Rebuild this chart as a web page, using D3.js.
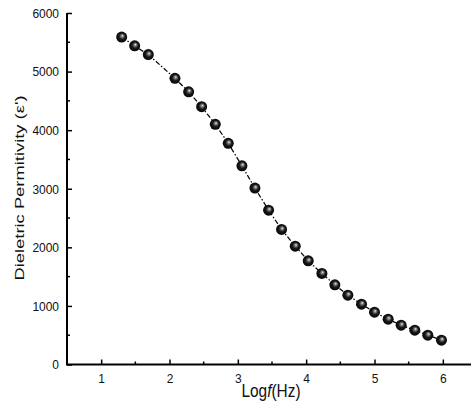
<!DOCTYPE html>
<html><head><meta charset="utf-8">
<script src="https://cdn.jsdelivr.net/npm/d3@7"></script>
<style>body{margin:0;background:#fff}svg{display:block}</style>
</head><body>
<script>
const logF = [1.30,1.49,1.69,2.08,2.28,2.47,2.67,2.86,3.06,3.25,3.45,3.64,3.84,4.03,4.23,4.42,4.61,4.81,5.00,5.20,5.39,5.59,5.78,5.98];
const permittivity = [5590,5440,5290,4885,4655,4400,4100,3775,3392,3011,2635,2306,2020,1769,1554,1360,1184,1030,893,774,671,586,501,415];
const xTicks = [1,2,3,4,5,6];
const yTicks = [0,1000,2000,3000,4000,5000,6000];

const W = 471, H = 402;
const FONT = "'Liberation Sans', Arial, sans-serif";
const svg = d3.select("body").append("svg").attr("width", W).attr("height", H)
  .style("font-family", FONT);

const x = d3.scaleLinear().domain([0.5, 6.5]).range([67, 477]);
const y = d3.scaleLinear().domain([0, 6000]).range([364.5, 13]);

const defs = svg.append("defs");
const g = defs.append("radialGradient").attr("id", "ball").attr("cx", "50%").attr("cy", "50%").attr("r", "55%")
  .attr("fx", "58%").attr("fy", "38%");
g.append("stop").attr("offset", "0%").attr("stop-color", "#f4f4f4");
g.append("stop").attr("offset", "18%").attr("stop-color", "#8a8a8a");
g.append("stop").attr("offset", "50%").attr("stop-color", "#1a1a1a");
g.append("stop").attr("offset", "100%").attr("stop-color", "#000");

const xMinor = d3.range(1.5, 6.6, 1);
const yMinor = d3.range(500, 6000, 1000);

const xAxis = svg.append("g").attr("transform", `translate(0,${y(0)})`)
  .call(d3.axisBottom(x).tickValues(xTicks).tickSize(-5).tickPadding(9).tickFormat(d3.format("d")));
xAxis.append("g").selectAll("line").data(xMinor).join("line")
  .attr("x1", d => x(d)).attr("x2", d => x(d)).attr("y1", 0).attr("y2", -3)
  .attr("stroke", "#000").attr("stroke-width", 1.5);

const yAxis = svg.append("g").attr("transform", `translate(${x(0.5)},0)`)
  .call(d3.axisLeft(y).tickValues(yTicks).tickSize(-5).tickPadding(8).tickFormat(d3.format("d")));
yAxis.append("g").selectAll("line").data(yMinor).join("line")
  .attr("y1", d => y(d)).attr("y2", d => y(d)).attr("x1", 0).attr("x2", 3)
  .attr("stroke", "#000").attr("stroke-width", 1.5);

[xAxis, yAxis].forEach(a => {
  a.select(".domain").remove();
  a.selectAll(".tick line").attr("stroke-width", 1.5);
  a.selectAll(".tick text").attr("font-size", 13.5).attr("fill", "#111")
    .style("font-family", FONT)
    .attr("textLength", function() { return this.textContent.length * 6.65; })
    .attr("lengthAdjust", "spacingAndGlyphs");
});
svg.append("line").attr("x1", x(0.5)).attr("x2", W).attr("y1", y(0)).attr("y2", y(0)).attr("stroke", "#000").attr("stroke-width", 2);
svg.append("line").attr("x1", x(0.5)).attr("x2", x(0.5)).attr("y1", y(0) + 1).attr("y2", y(6000)).attr("stroke", "#000").attr("stroke-width", 2);

const data = logF.map((d, i) => [d, permittivity[i]]);
svg.append("path").datum(data)
  .attr("fill", "none").attr("stroke", "#000").attr("stroke-width", 1.2)
  .attr("stroke-dasharray", "5,2,1.5,2")
  .attr("d", d3.line().x(d => x(d[0])).y(d => y(d[1])));

svg.append("g").selectAll("circle").data(data).join("circle")
  .attr("cx", d => x(d[0])).attr("cy", d => y(d[1])).attr("r", 5.5)
  .attr("fill", "url(#ball)");

// x-axis title: "Log" + italic "f" + "(Hz)", built as one text with tspans, stretched vertically
const xt = svg.append("g").attr("transform", "translate(271,397) scale(1,1.17)");
const xtext = xt.append("text").attr("x", 0).attr("y", 0).attr("text-anchor", "middle")
  .attr("font-size", 15.4).attr("fill", "#111");
xtext.append("tspan").text("Log");
xtext.append("tspan").attr("font-style", "italic").text("f");
xtext.append("tspan").text("(Hz)");

svg.append("text").attr("transform", "translate(24,188) rotate(-90)").attr("text-anchor", "middle")
  .attr("font-size", 13).attr("fill", "#111")
  .attr("textLength", 185).attr("lengthAdjust", "spacingAndGlyphs")
  .text("Dieletric Permitivity (ε')");
</script>
</body></html>
